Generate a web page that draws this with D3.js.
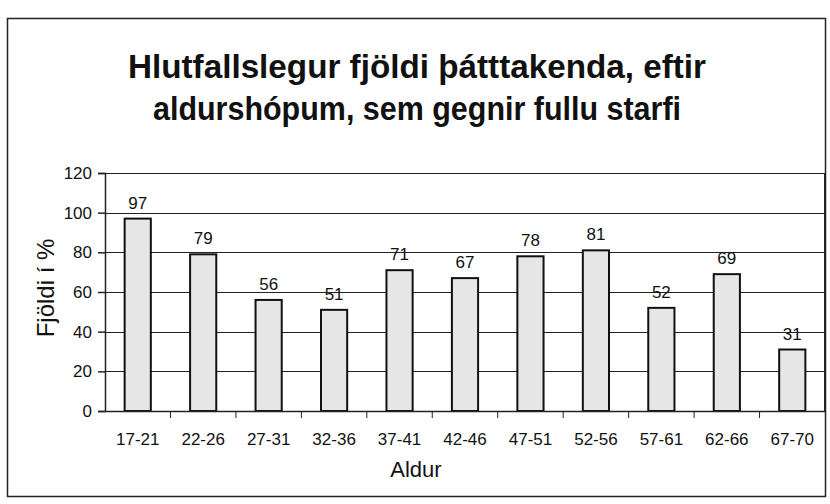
<!DOCTYPE html>
<html>
<head>
<meta charset="utf-8">
<script src="https://cdn.jsdelivr.net/npm/d3@7"></script>
<style>
  body { margin: 0; background: #fff; }
  text { font-family: "Liberation Sans", Arial, sans-serif; fill: #111; }
</style>
</head>
<body>
<svg id="chart" width="830" height="504"></svg>
<script>
// age groups and share (%) in full-time work
const ageGroups = ["17-21", "22-26", "27-31", "32-36", "37-41", "42-46",
                   "47-51", "52-56", "57-61", "62-66", "67-70"];
const shares = [97, 79, 56, 51, 71, 67, 78, 81, 52, 69, 31];
const yTicks = [0, 20, 40, 60, 80, 100, 120];
const titleLines = ["Hlutfallslegur fjöldi þátttakenda, eftir",
                    "aldurshópum, sem gegnir fullu starfi"];

const width = 830;
const height = 504;
const margin = { left: 105, right: 5, top: 173, bottom: 93 };

const svg = d3.select("#chart");

// outer frame of the chart
svg.append("rect")
    .attr("x", 7.5).attr("y", 18.5)
    .attr("width", 818).attr("height", 478)
    .attr("fill", "#fff")
    .attr("stroke", "#222")
    .attr("stroke-width", 1.5);

// title, two lines - squeezed to the width of the scanned original
svg.append("g").selectAll("text")
    .data(titleLines)
    .enter()
    .append("text")
    .attr("x", 417)
    .attr("y", (d, i) => 78 + i * 42)
    .attr("text-anchor", "middle")
    .attr("font-size", 34)
    .attr("font-weight", "bold")
    .attr("textLength", (d, i) => i === 0 ? 578 : 528)
    .attr("lengthAdjust", "spacingAndGlyphs")
    .text(d => d);

const x = d3.scaleBand()
    .domain(ageGroups)
    .range([margin.left, width - margin.right])
    .paddingInner(0.6)
    .paddingOuter(0.3);

const y = d3.scaleLinear()
    .domain([0, 120])
    .range([height - margin.bottom, margin.top]);

// gridlines
svg.append("g").selectAll("line")
    .data(yTicks)
    .enter()
    .append("line")
    .attr("x1", margin.left).attr("x2", width - margin.right)
    .attr("y1", d => Math.round(y(d)) + 0.5)
    .attr("y2", d => Math.round(y(d)) + 0.5)
    .attr("stroke", "#222")
    .attr("stroke-width", 1.2);

// right edge of plot area
svg.append("line")
    .attr("x1", width - margin.right - 0.5).attr("x2", width - margin.right - 0.5)
    .attr("y1", y(120)).attr("y2", y(0))
    .attr("stroke", "#222");

// bars
svg.append("g").selectAll("rect")
    .data(shares)
    .enter()
    .append("rect")
    .attr("x", (d, i) => x(ageGroups[i]))
    .attr("y", d => y(d))
    .attr("width", x.bandwidth())
    .attr("height", d => y(0) - y(d))
    .attr("fill", "#e6e6e6")
    .attr("stroke", "#111")
    .attr("stroke-width", 2);

// value labels
svg.append("g").selectAll("text")
    .data(shares)
    .enter()
    .append("text")
    .attr("x", (d, i) => x(ageGroups[i]) + x.bandwidth() / 2)
    .attr("y", d => y(d) - 10)
    .attr("text-anchor", "middle")
    .attr("font-size", 17)
    .text(d => d);

// y axis
const yAxis = svg.append("g")
    .attr("transform", `translate(${margin.left},0)`)
    .call(d3.axisLeft(y).tickValues(yTicks).tickSize(7).tickPadding(6));
yAxis.attr("font-size", 17).attr("font-family", null);
yAxis.selectAll("line, path").attr("stroke", "#222").attr("stroke-width", 1.5);

// x axis: ticks between categories
const xAxis = svg.append("g")
    .attr("transform", `translate(0,${y(0)})`)
    .call(d3.axisBottom(x).tickSize(0).tickPadding(22));
xAxis.attr("font-size", 17).attr("font-family", null);
xAxis.select("path").attr("stroke", "#222").attr("stroke-width", 1.5);
xAxis.selectAll("line.sep")
    .data(ageGroups.slice(1))
    .enter()
    .append("line")
    .attr("x1", d => x(d) - x.step() * x.paddingInner() / 2)
    .attr("x2", d => x(d) - x.step() * x.paddingInner() / 2)
    .attr("y1", 0).attr("y2", 7)
    .attr("stroke", "#222");

// axis titles
svg.append("text")
    .attr("x", 416).attr("y", 477)
    .attr("text-anchor", "middle")
    .attr("font-size", 22)
    .text("Aldur");

svg.append("text")
    .attr("transform", "translate(54,288) rotate(-90)")
    .attr("text-anchor", "middle")
    .attr("font-size", 24)
    .text("Fjöldi í %");
</script>
</body>
</html>
